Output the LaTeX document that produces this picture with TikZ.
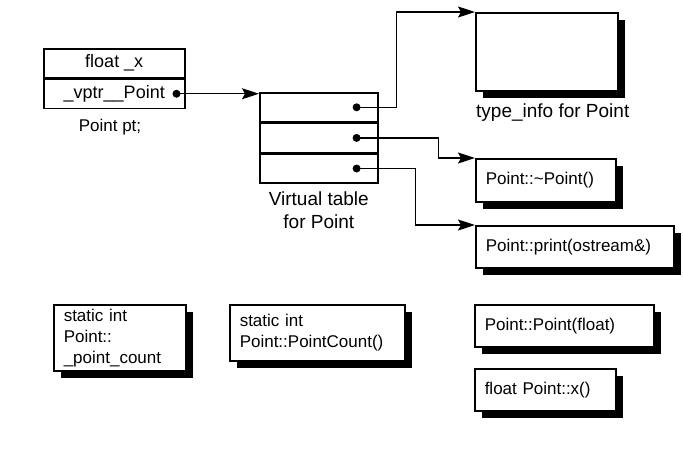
\documentclass[tikz,border=0pt]{standalone}
\usepackage{fontspec}
\setmainfont{Liberation Sans}
\usetikzlibrary{positioning,shadows,arrows.meta}

\begin{document}
\begin{tikzpicture}[x=1pt,y=-1pt,
    every node/.style={font=\fontsize{17}{21}\selectfont},
    biglbl/.style={font=\fontsize{19}{23}\selectfont},
    slot/.style={draw,line width=1.5pt,minimum width=141pt,minimum height=29pt,inner sep=0pt,
        font=\fontsize{18}{21}\selectfont},
    vslot/.style={draw,line width=1.6pt,minimum width=118pt,minimum height=29pt,inner sep=0pt},
    fnbox/.style={draw,line width=1.5pt,fill=white,anchor=north west,align=left,inner xsep=10pt,inner ysep=0pt,
        drop shadow={shadow xshift=7pt,shadow yshift=-7pt,opacity=1,fill=black}},
    ptr/.style={line width=1.3pt,-{Stealth[length=17pt,width=11pt,inset=3pt]}},
    ptrdot/.style={fill=black}]
    \useasboundingbox (0,0) rectangle (683,451);

    % the object pt
    \node[slot,anchor=north west] (fx) at (43,48) {float \_x};
    \node[slot,below=0pt of fx] (vp) {\_vptr\_\_Point\hspace{8pt}};
    \coordinate (vpdot) at ([xshift=-9pt]vp.east);
    \node (pt) at (110,127) {Point pt;};

    % virtual table
    \node[vslot,anchor=north west] (vt1) at (259,92) {};
    \node[vslot,below=0pt of vt1] (vt2) {};
    \node[vslot,below=0pt of vt2] (vt3) {};
    \foreach \i in {1,2,3}
        \coordinate (d\i) at ([xshift=-22pt]vt\i.east);
    \node[biglbl,align=center,below=4pt of vt3] (vtlbl) {Virtual table\\for Point};

    % type info and member functions
    \node[fnbox,minimum width=142pt,minimum height=78pt] (ti) at (475,12) {};
    \node[biglbl,below=9pt of ti,xshift=6pt] (tilbl) {type\_info for Point};
    \node[fnbox,text width=120pt,minimum height=43pt] (dtor) at (475,158) {Point::\textasciitilde Point()};
    \node[fnbox,text width=178pt,minimum height=42pt] (prt) at (475,225) {Point::print(ostream\&)};
    \node[fnbox,text width=159pt,minimum height=42pt] (ctor) at (474,304) {Point::Point(float)};
    \node[fnbox,text width=121pt,minimum height=42pt] (getx) at (474,368) {float Point::x()};

    % static members
    \node[fnbox,text width=112pt,minimum height=66pt] (cnt) at (53,304) {static int\\Point::\\\_point\_count};
    \node[fnbox,text width=155pt,minimum height=56pt] (pcnt) at (229,304) {static int\\Point::PointCount()};

    % pointers
    \draw[ptr] (vpdot) -- (vpdot -| vt1.north west);
    \draw[ptr] (d1) -- ++(40,0) |- (ti.north west);
    \draw[ptr] (d2) -- ++(82,0) |- (dtor.north west);
    \draw[ptr] (d3) -- ++(59,0) |- (prt.north west);
    \foreach \p in {vpdot,d1,d2,d3}
        \fill[ptrdot] (\p) circle[radius=4pt];
\end{tikzpicture}
\end{document}
